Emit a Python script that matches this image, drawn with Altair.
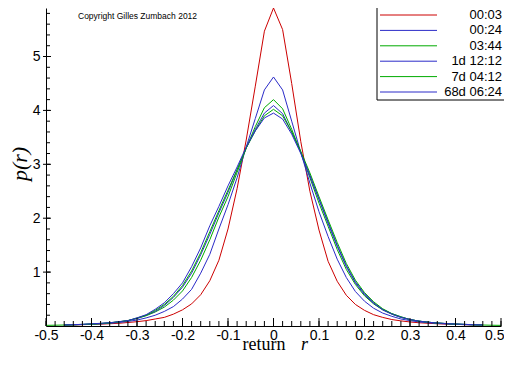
import altair as alt
import pandas as pd

# ---------------- data ----------------
names = ["00:03", "00:24", "03:44", "1d 12:12", "7d 04:12", "68d 06:24"]
colors = ["#cc0000", "#2b2bc8", "#00aa00", "#2b2bc8", "#00aa00", "#2b2bc8"]

R46 = [round(-0.46 + 0.02 * i, 2) for i in range(47)]
R50 = [round(-0.50 + 0.02 * i, 2) for i in range(51)]

p_0003 = [0.015, 0.02, 0.025, 0.03, 0.035, 0.042, 0.05, 0.065, 0.08, 0.1, 0.13, 0.16,
          0.22, 0.3, 0.41, 0.58, 0.84, 1.22, 1.8, 2.55, 3.45, 4.45, 5.47,
          5.9,
          5.5, 4.5, 3.42, 2.5, 1.78, 1.2, 0.83, 0.57, 0.4, 0.29, 0.21, 0.16,
          0.12, 0.095, 0.075, 0.06, 0.05, 0.042, 0.035, 0.03, 0.025, 0.02, 0.016]
p_0024 = [0.018, 0.022, 0.027, 0.033, 0.04, 0.05, 0.065, 0.085, 0.11, 0.15, 0.2, 0.27,
          0.36, 0.5, 0.68, 0.98, 1.33, 1.8, 2.25, 2.75, 3.32, 3.85, 4.38,
          4.62,
          4.38, 3.8, 3.22, 2.65, 2.12, 1.66, 1.24, 0.9, 0.64, 0.46, 0.33, 0.24,
          0.18, 0.13, 0.1, 0.075, 0.06, 0.047, 0.038, 0.031, 0.025, 0.02, 0.017]
p_0344 = [0.02, 0.025, 0.03, 0.038, 0.048, 0.06, 0.08, 0.1, 0.14, 0.19, 0.26, 0.35,
          0.48, 0.65, 0.9, 1.22, 1.6, 2.02, 2.4, 2.85, 3.3, 3.7, 4.05,
          4.2,
          4.03, 3.65, 3.22, 2.75, 2.28, 1.85, 1.42, 1.05, 0.77, 0.56, 0.41, 0.3,
          0.22, 0.16, 0.12, 0.09, 0.07, 0.055, 0.045, 0.036, 0.03, 0.024, 0.02]
p_1d = [0.02, 0.024, 0.03, 0.036, 0.045, 0.058, 0.075, 0.1, 0.14, 0.2, 0.27, 0.38,
        0.53, 0.72, 0.98, 1.32, 1.7, 2.1, 2.48, 2.9, 3.3, 3.65, 3.95,
        4.09,
        3.94, 3.6, 3.22, 2.8, 2.35, 1.93, 1.5, 1.12, 0.82, 0.6, 0.43, 0.31,
        0.23, 0.17, 0.12, 0.09, 0.07, 0.055, 0.045, 0.036, 0.03, 0.024, 0.02]
p_7d = [0.012, 0.015, 0.018, 0.022, 0.027, 0.034, 0.043, 0.056, 0.075, 0.1, 0.15, 0.2,
        0.29, 0.4, 0.55, 0.75, 1.02, 1.36, 1.75, 2.14, 2.52, 2.9, 3.3, 3.62, 3.9,
        4.02,
        3.9, 3.6, 3.24, 2.84, 2.4, 1.97, 1.55, 1.16, 0.85, 0.62, 0.45, 0.32, 0.23,
        0.17, 0.12, 0.09, 0.07, 0.055, 0.044, 0.035, 0.028, 0.022, 0.018, 0.014, 0.012]
p_68d = [0.02, 0.025, 0.03, 0.04, 0.05, 0.06, 0.08, 0.1, 0.15, 0.21, 0.31, 0.43,
         0.6, 0.8, 1.1, 1.45, 1.86, 2.22, 2.6, 2.95, 3.32, 3.62, 3.86,
         3.95,
         3.84, 3.56, 3.2, 2.78, 2.35, 1.9, 1.48, 1.1, 0.8, 0.58, 0.42, 0.3,
         0.22, 0.16, 0.12, 0.09, 0.07, 0.055, 0.045, 0.036, 0.03, 0.024, 0.02]

series = [("00:03", R46, p_0003), ("00:24", R46, p_0024), ("03:44", R46, p_0344),
          ("1d 12:12", R46, p_1d), ("7d 04:12", R50, p_7d), ("68d 06:24", R46, p_68d)]

x_major = [-0.5, -0.4, -0.3, -0.2, -0.1, 0.0, 0.1, 0.2, 0.3, 0.4, 0.5]
x_minor = [round(-0.5 + 0.02 * i, 2) for i in range(51)]
y_major = [1, 2, 3, 4, 5]
y_minor = [round(0.2 * i, 1) for i in range(1, 30)]

rows = []
for name, rs, ps in series:
    assert len(rs) == len(ps), name
    for r, p in zip(rs, ps):
        rows.append({"name": name, "r": r, "p": p})
df = pd.DataFrame(rows)

W, H = 455, 318
x_scale = alt.Scale(domain=[-0.5, 0.5], nice=False, zero=False)
y_scale = alt.Scale(domain=[0, 5.9], nice=False, zero=False)
color_scale = alt.Scale(domain=names, range=colors)
SANS = "Liberation Sans"
SERIF = "Liberation Serif"

x_axis = alt.Axis(
    values=x_major, tickSize=0, grid=False, title=None, domainColor="black",
    domainWidth=1, labelFont=SANS, labelFontSize=14, labelColor="black",
    labelPadding=2, labelFlush=False,
    labelAlign={"condition": {"test": "datum.value >= 0.5", "value": "right"}, "value": "center"},
    labelOffset={"condition": {"test": "datum.value >= 0.5", "value": 3}, "value": 0},
    labelExpr="datum.value == 0 ? '0' : (datum.value < 0 ? '-' : '') + format(abs(datum.value), '.1f')")

lines = alt.Chart(df).mark_line(strokeWidth=1, clip=True).encode(
    x=alt.X("r:Q", scale=x_scale, axis=x_axis),
    y=alt.Y("p:Q", scale=y_scale, axis=alt.Axis(
        values=y_major, tickSize=0, grid=False, title=None, domainColor="black",
        domainWidth=1, labelFont=SANS, labelFontSize=14, labelColor="black",
        labelPadding=6, format="d")),
    color=alt.Color("name:N", scale=color_scale, legend=None),
)

xminor = alt.Chart(pd.DataFrame({"r": x_minor})).mark_rule(color="black", strokeWidth=1).encode(
    x=alt.X("r:Q", scale=x_scale, axis=x_axis), y=alt.value(H), y2=alt.value(H - 5))
xmajor = alt.Chart(pd.DataFrame({"r": x_major})).mark_rule(color="black", strokeWidth=1).encode(
    x=alt.X("r:Q", scale=x_scale, axis=x_axis), y=alt.value(H), y2=alt.value(H - 8))
yminor = alt.Chart(pd.DataFrame({"t": y_minor})).mark_rule(color="black", strokeWidth=1).encode(
    y=alt.Y("t:Q", scale=y_scale, axis=None), x=alt.value(0), x2=alt.value(4))
ymajor = alt.Chart(pd.DataFrame({"t": y_major})).mark_rule(color="black", strokeWidth=1).encode(
    y=alt.Y("t:Q", scale=y_scale, axis=None), x=alt.value(-3), x2=alt.value(5))

one = pd.DataFrame({"a": [0]})
copyright_txt = alt.Chart(one).mark_text(
    align="left", baseline="middle", font=SANS, fontSize=8.5, color="black",
    text="Copyright Gilles Zumbach 2012").encode(x=alt.value(32), y=alt.value(8))
xt1 = alt.Chart(one).mark_text(
    align="center", baseline="alphabetic", font=SERIF, fontSize=18, color="black",
    text="return").encode(x=alt.value(218), y=alt.value(342))
xt2 = alt.Chart(one).mark_text(
    align="left", baseline="alphabetic", font=SERIF, fontSize=18, fontStyle="italic",
    color="black", text="r").encode(x=alt.value(255), y=alt.value(342))
yt = alt.Chart(one).mark_text(
    align="center", baseline="middle", font=SERIF, fontSize=22, fontStyle="italic",
    color="black", angle=270, text="p(r)").encode(x=alt.value(-26), y=alt.value(156))

legend_df = pd.DataFrame({"name": names, "c": colors, "i": list(range(len(names)))})
leg_y = alt.Y("i:Q", scale=alt.Scale(domain=[0, 5], range=[7, 84]), axis=None)
leg_box = alt.Chart(one).mark_rect(fill="white", stroke="black", strokeWidth=1).encode(
    x=alt.value(331), x2=alt.value(475), y=alt.value(-10), y2=alt.value(92))
leg_lines = alt.Chart(legend_df).mark_rule(strokeWidth=1).encode(
    x=alt.value(334), x2=alt.value(391), y=leg_y,
    color=alt.Color("c:N", scale=None, legend=None))
leg_text = alt.Chart(legend_df).mark_text(
    align="right", baseline="middle", font=SANS, fontSize=13, color="black").encode(
    x=alt.value(456), y=leg_y, text="name:N")

chart = alt.layer(
    lines, xminor, xmajor, yminor, ymajor, copyright_txt, xt1, xt2, yt,
    leg_box, leg_lines, leg_text
).resolve_scale(y="independent", color="independent").properties(
    width=W, height=H,
    autosize=alt.AutoSizeParams(type="none"),
    padding={"left": 38, "top": 0, "right": 3, "bottom": 28},
    background="white",
).configure_view(stroke=None)

chart.save("out.html", embed_options={"renderer": "svg", "actions": False})
